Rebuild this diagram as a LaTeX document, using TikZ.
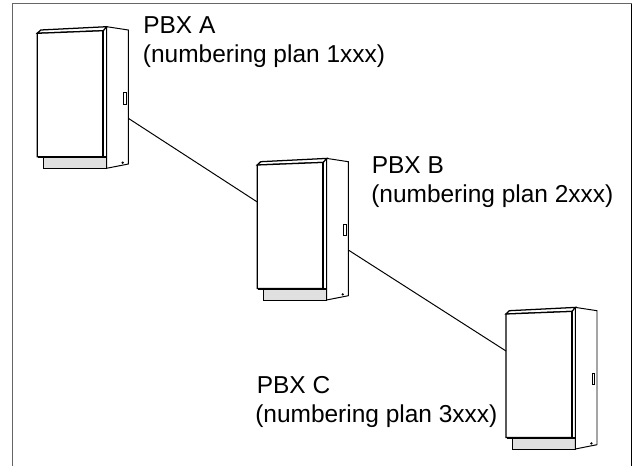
\documentclass[tikz,border=0pt]{standalone}
\usepackage{fontspec}
\setmainfont{Liberation Sans}
\begin{document}
\begin{tikzpicture}[x=0.025cm,y=-0.025cm,
	pbx/.style={font=\fontsize{17.4}{21}\selectfont,anchor=base west,inner sep=0pt},
	link/.style={line width=0.7pt},
	pics/cabinet/.style={code={
		% plinth under the door
		\filldraw[fill=black!12,line width=0.7pt] (6,124.5) rectangle (69.4,135);
		\draw[line width=1.4pt] (1,124) -- (69.4,124);
		% side panel
		\filldraw[fill=white,line width=0.7pt] (69.4,-6.6) -- (91,-3.3) -- (91,130.7) -- (69.4,135) -- cycle;
		% top chamfer and door
		\filldraw[fill=white,line width=0.9pt] (0,0) -- (3.4,-3.3) -- (69.4,-6.6) -- (66,-2.6) -- cycle;
		\filldraw[fill=white,line width=0.9pt] (0,0) -- (66,-2.6) -- (66,123.4) -- (0,123.4) -- cycle;
		\draw[line width=1.6pt] (66,-2.6) -- (66,123.4);
		\draw[line width=1.1pt] (69.4,-6.6) -- (69.4,135);
		% handle and foot screw
		\draw[line width=0.6pt] (86.1,59.4) rectangle (88.7,70.7);
		\fill (85.4,129.4) circle (0.9pt);
		\coordinate (-west) at (0,37);
		\coordinate (-east) at (91,85);
	}}]
	\useasboundingbox (0,0) rectangle (633,466);
	\draw[black!60,line width=0.8pt] (12.3,466) -- (12.3,3.8) -- (631.5,3.8);
	\draw[line width=0.8pt] (631.5,3.8) -- (631.5,466);

	\pic (A) at (37.3,33.3) {cabinet};
	\pic (B) at (257.3,165) {cabinet};
	\pic (C) at (506,314) {cabinet};

	\draw[link] (A-east) -- (B-west);
	\draw[link] (B-east) -- (C-west);

	\node[pbx] (nameA) at (143,33.3) {PBX A};
	\node[pbx] (planA) at (142.7,63) {(numbering plan 1xxx)};
	\node[pbx] (nameB) at (371.5,173.3) {PBX B};
	\node[pbx] (planB) at (371,202) {(numbering plan 2xxx)};
	\node[pbx] (nameC) at (256.5,393.3) {PBX C};
	\node[pbx] (planC) at (255,422) {(numbering plan 3xxx)};
\end{tikzpicture}
\end{document}
